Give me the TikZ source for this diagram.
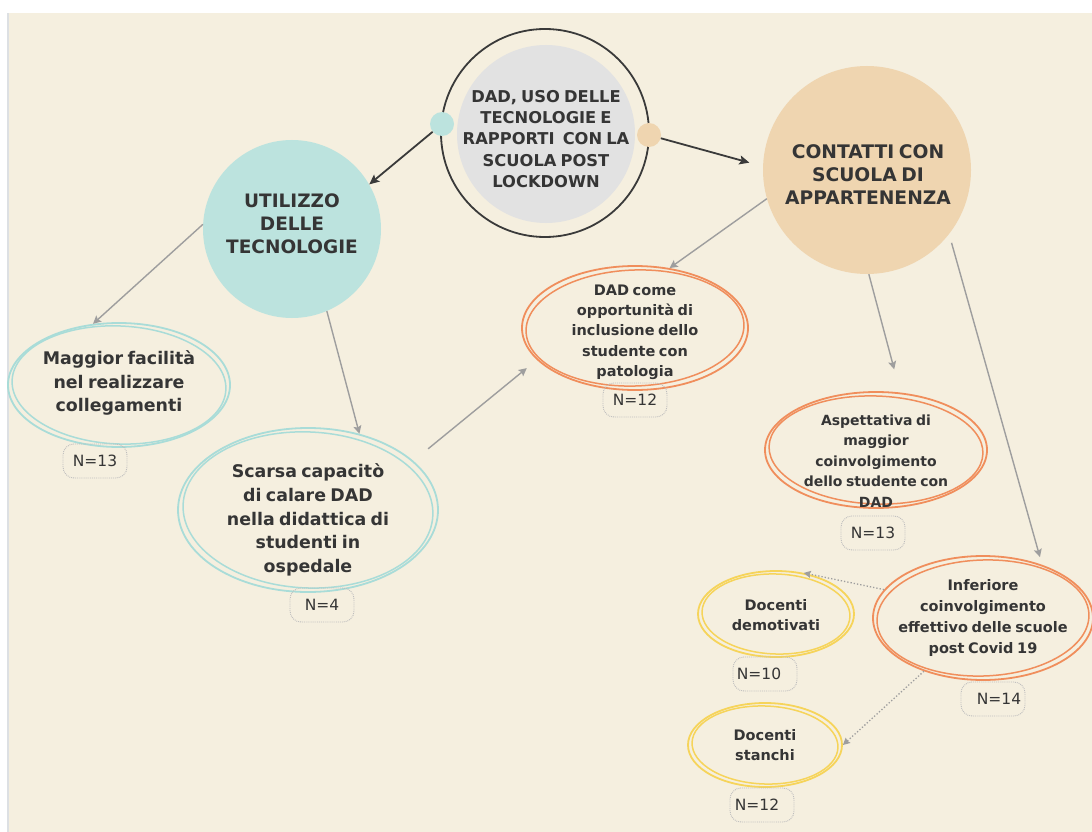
\documentclass[tikz,border=0pt]{standalone}
\usepackage{fontspec}
\setmainfont{DejaVu Sans}
\usetikzlibrary{shapes.geometric,arrows.meta}

\definecolor{paper}{HTML}{F5EFDF}
\definecolor{strip}{HTML}{DDE0E3}
\definecolor{ink}{HTML}{353535}
\definecolor{hubgray}{HTML}{E2E2E2}
\definecolor{ringline}{HTML}{3A3A3A}
\definecolor{tealfill}{HTML}{BCE3DE}
\definecolor{tanfill}{HTML}{EFD5B0}
\definecolor{tealline}{HTML}{A9DCD8}
\definecolor{orangeline}{HTML}{F08E5C}
\definecolor{yellowline}{HTML}{F6D45A}
\definecolor{arrowgray}{HTML}{9E9E9E}
\definecolor{boxline}{HTML}{BDBDBD}

% font size, baseline skip, bold, narrow word spaces
\newcommand\setfs[2]{\fontsize{#1}{#2}\selectfont\bfseries\spaceskip=.25em\relax}

\tikzset{
  lbl/.style={text=ink, align=center, inner sep=0pt},
  disc/.style={circle, inner sep=0pt, minimum size=#1},
  oval/.style 2 args={ellipse, inner sep=0pt, draw=#1, line width=1.8pt,
    minimum width=#2},
  darkarrow/.style={draw=ringline, line width=1.8pt,
    -{Stealth[length=10pt,width=9pt,inset=2pt]}},
  grayarrow/.style={draw=arrowgray, line width=1.4pt,
    -{Stealth[length=8pt,width=8pt,inset=1.5pt]}},
  dotarrow/.style={draw=arrowgray, line width=1.3pt, dotted,
    -{Stealth[length=7pt,width=7pt,inset=1pt]}},
  nbox/.style={rectangle, rounded corners=11pt, draw=boxline, densely dotted,
    line width=0.9pt, minimum width=64pt, minimum height=34pt, inner sep=0pt},
  ntext/.style={text=ink, inner sep=0pt, font=\fontsize{15.5}{17}\selectfont},
}

\begin{document}
\begin{tikzpicture}[x=1pt, y=-1pt]
\useasboundingbox (0,0) rectangle (1092,832);
\fill[white] (0,0) rectangle (1092,832);
\fill[paper] (9,13) rectangle (1092,832);
\fill[strip] (7,13) rectangle (9,832);

% central hub
\node[disc=208pt, draw=ringline, line width=1.8pt] (hubring) at (545,133) {};
\node[disc=178pt, fill=hubgray] (hub) at (546,134) {};
\node[lbl, font=\setfs{16.3}{21.2}] (hubtxt) at (546,139)
  {DAD, USO DELLE\\TECNOLOGIE E\\RAPPORTI\ \ CON LA\\SCUOLA POST\\LOCKDOWN};
\node[disc=24pt, fill=tealfill] (dotL) at (442,124) {};
\node[disc=24pt, fill=tanfill] (dotR) at (649,135) {};

% main branches
\node[disc=178pt, fill=tealfill] (util) at (292,229) {};
\node[lbl, font=\setfs{18.5}{23}] (utiltxt) at (292,224)
  {UTILIZZO\\DELLE\\TECNOLOGIE};
\node[disc=208pt, fill=tanfill] (cont) at (867,170) {};
\node[lbl, font=\setfs{18.7}{23}] (conttxt) at (868,175)
  {CONTATTI CON\\SCUOLA DI\\APPARTENENZA};

% outcome ellipses (hand-drawn double outline)
\node[oval={tealline}{222pt}, minimum height=124pt] (magg) at (119,385) {};
\draw[tealline, line width=1.5pt, rotate around={-2.5:(magg.center)}]
  (magg.center) ellipse[x radius=107pt, y radius=59pt];
\node[lbl, font=\setfs{17.4}{23.5}] (maggtxt) at (119,383)
  {Maggior facilità\\nel realizzare\\collegamenti};

\node[oval={tealline}{260pt}, minimum height=164pt] (scarsa) at (308,510) {};
\draw[tealline, line width=1.5pt, rotate around={-2.5:(scarsa.center)}]
  (scarsa.center) ellipse[x radius=125pt, y radius=78pt];
\node[lbl, font=\setfs{17.4}{23.7}] (scarsatxt) at (308,520)
  {Scarsa capacitò\\di calare DAD\\nella didattica di\\studenti in\\ospedale};

\node[oval={orangeline}{226pt}, minimum height=124pt] (dadc) at (635,328) {};
\draw[orangeline, line width=1.5pt, rotate around={2:(dadc.center)}]
  (dadc.center) ellipse[x radius=109pt, y radius=58pt];
\node[lbl, font=\setfs{14.5}{20.3}] (dadctxt) at (635,332)
  {DAD come\\opportunità di\\inclusione dello\\studente con\\patologia};

\node[oval={orangeline}{222pt}, minimum height=116pt] (asp) at (876,450) {};
\draw[orangeline, line width=1.5pt, rotate around={-2:(asp.center)}]
  (asp.center) ellipse[x radius=107pt, y radius=54pt];
\node[lbl, font=\setfs{14}{20.5}] (asptxt) at (876,461)
  {Aspettativa di\\maggior\\coinvolgimento\\dello studente con\\DAD};

\node[oval={orangeline}{220pt}, minimum height=124pt] (inf) at (983,618) {};
\draw[orangeline, line width=1.5pt, rotate around={2:(inf.center)}]
  (inf.center) ellipse[x radius=106pt, y radius=58pt];
\node[lbl, font=\setfs{14.5}{20.7}] (inftxt) at (983,618)
  {Inferiore\\coinvolgimento\\effettivo delle scuole\\post Covid 19};

\node[oval={yellowline}{156pt}, minimum height=86pt] (demot) at (776,614) {};
\draw[yellowline, line width=1.5pt, rotate around={-2:(demot.center)}]
  (demot.center) ellipse[x radius=74pt, y radius=40pt];
\node[lbl, font=\setfs{14.5}{20}] (demottxt) at (776,615)
  {Docenti\\demotivati};

\node[oval={yellowline}{154pt}, minimum height=84pt] (stanchi) at (765,745) {};
\draw[yellowline, line width=1.5pt, rotate around={-2:(stanchi.center)}]
  (stanchi.center) ellipse[x radius=73pt, y radius=39pt];
\node[lbl, font=\setfs{14.5}{20}] (stanchitxt) at (765,745)
  {Docenti\\stanchi};

% counts
\node[nbox] (nmagg) at (95,461) {};
\node[ntext] (nmaggtxt) at (95,461) {N=13};
\node[nbox] (nscarsa) at (322,605) {};
\node[ntext] (nscarsatxt) at (322,605) {N=4};
\node[nbox] (ndadc) at (635,400) {};
\node[ntext] (ndadctxt) at (635,400) {N=12};
\node[nbox] (nasp) at (873,533) {};
\node[ntext] (nasptxt) at (873,533) {N=13};
\node[nbox] (ninf) at (993,699) {};
\node[ntext] (ninftxt) at (999,699) {N=14};
\node[nbox] (ndemot) at (765,674) {};
\node[ntext] (ndemottxt) at (759,674) {N=10};
\node[nbox] (nstanchi) at (762,805) {};
\node[ntext] (nstanchitxt) at (757,805) {N=12};

% connectors
\draw[darkarrow] (dotL) -- (util.30);
\draw[darkarrow, shorten >=14pt] (dotR) -- (cont.178);

\draw[grayarrow] (util.177) -- (magg.113);
\draw[grayarrow] (util.-67) -- (scarsa.56);
\draw[grayarrow, shorten <=19pt, shorten >=13pt] (scarsa.25) -- (dadc.198);
\draw[grayarrow] (cont.196) -- (dadc.60);
\draw[grayarrow, shorten >=24pt] (cont.-89) -- (asp.67);
\draw[grayarrow, shorten <=9pt, shorten >=8pt] (cont.-38) -- (inf.42);

\draw[dotarrow] (inf.164) -- (demot.56);
\draw[dotarrow] (inf.222) -- (stanchi.0);
\end{tikzpicture}
\end{document}
